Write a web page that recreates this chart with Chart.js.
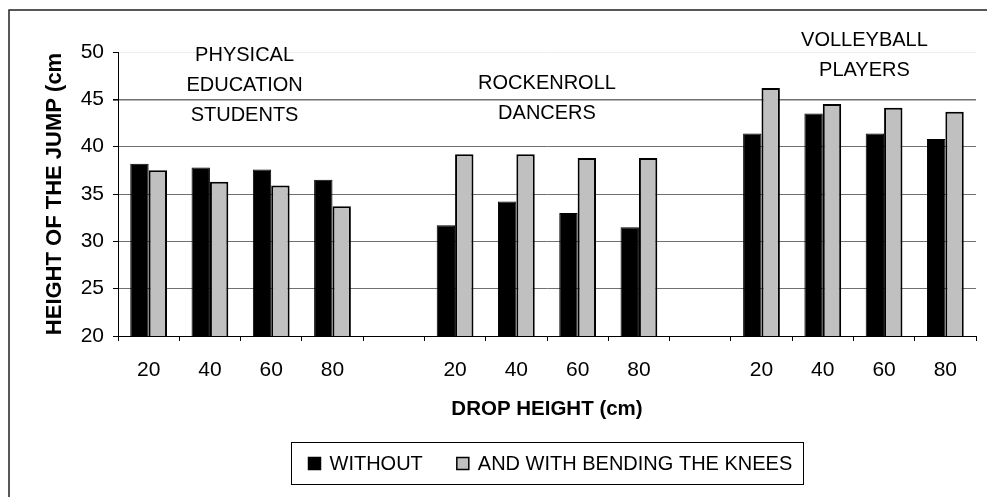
<!DOCTYPE html>
<html>
<head>
<meta charset="utf-8">
<title>Height of the jump</title>
<script src="https://cdn.jsdelivr.net/npm/chart.js@4.4.1/dist/chart.umd.min.js"></script>
<style>
  html, body { margin: 0; padding: 0; background: #fff; overflow: hidden; }
  #wrap { position: relative; width: 987px; height: 497px; }
</style>
</head>
<body>
<div id="wrap"><canvas id="jumpChart"></canvas></div>
<script>
// drop heights per group, with an empty slot between the three groups
const dropHeights = ['20', '40', '60', '80', '', '20', '40', '60', '80', '', '20', '40', '60', '80'];
const withoutBend = [38.2, 37.8, 37.6, 36.5, null, 31.7, 34.2, 33.0, 31.5, null, 41.4, 43.5, 41.4, 40.8];
const withBend = [37.5, 36.3, 35.9, 33.7, null, 39.2, 39.2, 38.8, 38.8, null, 46.2, 44.5, 44.1, 43.7];
const seriesNames = ['WITHOUT', 'AND WITH BENDING THE KNEES'];
const groupNames = [
    ['PHYSICAL', 'EDUCATION', 'STUDENTS'],
    ['ROCKENROLL', 'DANCERS'],
    ['VOLLEYBALL', 'PLAYERS']
];
const groupSlots = [[0, 3], [5, 8], [10, 13]];
const yMin = 20;
const yMax = 50;
const yStep = 5;

const FONT = '"Liberation Sans", Arial, Helvetica, sans-serif';
Chart.defaults.font.family = FONT;
Chart.defaults.color = '#000';

// white page with the thin outer frame
const framePlugin = {
    id: 'frame',
    beforeDraw(chart) {
        const ctx = chart.ctx;
        ctx.save();
        ctx.fillStyle = '#fff';
        ctx.fillRect(0, 0, chart.width, chart.height);
        ctx.strokeStyle = '#222';
        ctx.lineWidth = 1.5;
        ctx.strokeRect(9, 10, chart.width + 50, chart.height + 50);
        ctx.restore();
    }
};

// group names written above each block of bars
const groupLabels = {
    id: 'groupLabels',
    afterDatasetsDraw(chart) {
        const ctx = chart.ctx;
        const x = chart.scales.x;
        const tops = [55, 83, 40];
        const shifts = [4, 0, 11];
        const lineGap = 30;
        ctx.save();
        ctx.font = '20px ' + FONT;
        ctx.fillStyle = '#000';
        ctx.textAlign = 'center';
        ctx.textBaseline = 'middle';
        groupNames.forEach((lines, i) => {
            const [a, b] = groupSlots[i];
            const cx = (x.getPixelForValue(a) + x.getPixelForValue(b)) / 2 + shifts[i];
            lines.forEach((line, j) => {
                ctx.fillText(line, cx, tops[i] + j * lineGap);
            });
        });
        ctx.restore();
    }
};

// legend drawn inside a bordered box under the axis title
const boxedLegend = {
    id: 'boxedLegend',
    afterDraw(chart) {
        const ctx = chart.ctx;
        const area = chart.chartArea;
        ctx.save();
        ctx.font = '20px ' + FONT;
        const sq = 12, gapText = 9, gapItem = 34, padX = 17, padR = 11;
        const items = chart.data.datasets.map(ds => ({
            label: ds.label,
            fill: ds.backgroundColor,
            width: sq + gapText + ctx.measureText(ds.label).width
        }));
        const inner = items.reduce((s, it) => s + it.width, 0) + gapItem * (items.length - 1);
        const boxW = Math.round(inner + padX + padR);
        const boxH = 42;
        const cx = (area.left + area.right) / 2;
        const x0 = Math.round(cx - boxW / 2) + 0.5;
        const y0 = 442.5;
        ctx.strokeStyle = '#000';
        ctx.lineWidth = 1;
        ctx.strokeRect(x0, y0, boxW, boxH);
        const cy = y0 + boxH / 2;
        let x = x0 + padX;
        items.forEach(it => {
            ctx.fillStyle = it.fill;
            ctx.fillRect(x, cy - sq / 2, sq, sq);
            ctx.strokeStyle = '#000';
            ctx.lineWidth = 1.5;
            ctx.strokeRect(x, cy - sq / 2, sq, sq);
            ctx.fillStyle = '#000';
            ctx.textAlign = 'left';
            ctx.textBaseline = 'middle';
            ctx.fillText(it.label, x + sq + gapText, cy + 1);
            x += it.width + gapItem;
        });
        ctx.restore();
    }
};

const ctx = document.getElementById('jumpChart').getContext('2d');
const jumpChart = new Chart(ctx, {
    type: 'bar',
    data: {
        labels: dropHeights,
        datasets: [{
            label: seriesNames[0],
            data: withoutBend,
            backgroundColor: '#000000',
            borderColor: '#000000',
            borderWidth: 1
        }, {
            label: seriesNames[1],
            data: withBend,
            backgroundColor: '#c0c0c0',
            borderColor: '#000000',
            borderWidth: 2
        }]
    },
    options: {
        responsive: true,
        maintainAspectRatio: false,
        animation: false,
        events: [],
        categoryPercentage: 0.6,
        barPercentage: 1.0,
        layout: {
            padding: { top: 52, right: 11, bottom: 0, left: 0 }
        },
        plugins: {
            legend: { display: false },
            tooltip: { enabled: false }
        },
        scales: {
            x: {
                grid: {
                    drawOnChartArea: false,
                    drawTicks: true,
                    tickLength: 5,
                    tickColor: '#000',
                    offset: true
                },
                border: { display: true, color: '#000', width: 1 },
                ticks: {
                    font: { size: 21 },
                    padding: 17,
                    maxRotation: 0,
                    autoSkip: false
                },
                title: {
                    display: true,
                    text: 'DROP HEIGHT (cm)',
                    font: { size: 20.5, weight: 'bold' },
                    padding: { top: 0, bottom: 75 }
                },
                afterFit(scale) {
                    scale.height = 161;
                }
            },
            y: {
                min: yMin,
                max: yMax,
                ticks: {
                    stepSize: yStep,
                    font: { size: 21 },
                    padding: 9
                },
                grid: {
                    color: c => (c.tick && c.tick.value === yMax) ? '#ececec' : '#707070',
                    lineWidth: c => (c.tick && c.tick.value === 45) ? 1.6 : 1,
                    drawTicks: true,
                    tickLength: 5,
                    tickColor: '#000'
                },
                border: { display: true, color: '#000', width: 1 },
                title: {
                    display: true,
                    text: 'HEIGHT OF THE JUMP (cm',
                    font: { size: 22, weight: 'bold' },
                    padding: { top: 42, bottom: 0 }
                },
                afterFit(scale) {
                    scale.width = 118;
                }
            }
        }
    },
    plugins: [framePlugin, groupLabels, boxedLegend]
});
</script>
</body>
</html>
